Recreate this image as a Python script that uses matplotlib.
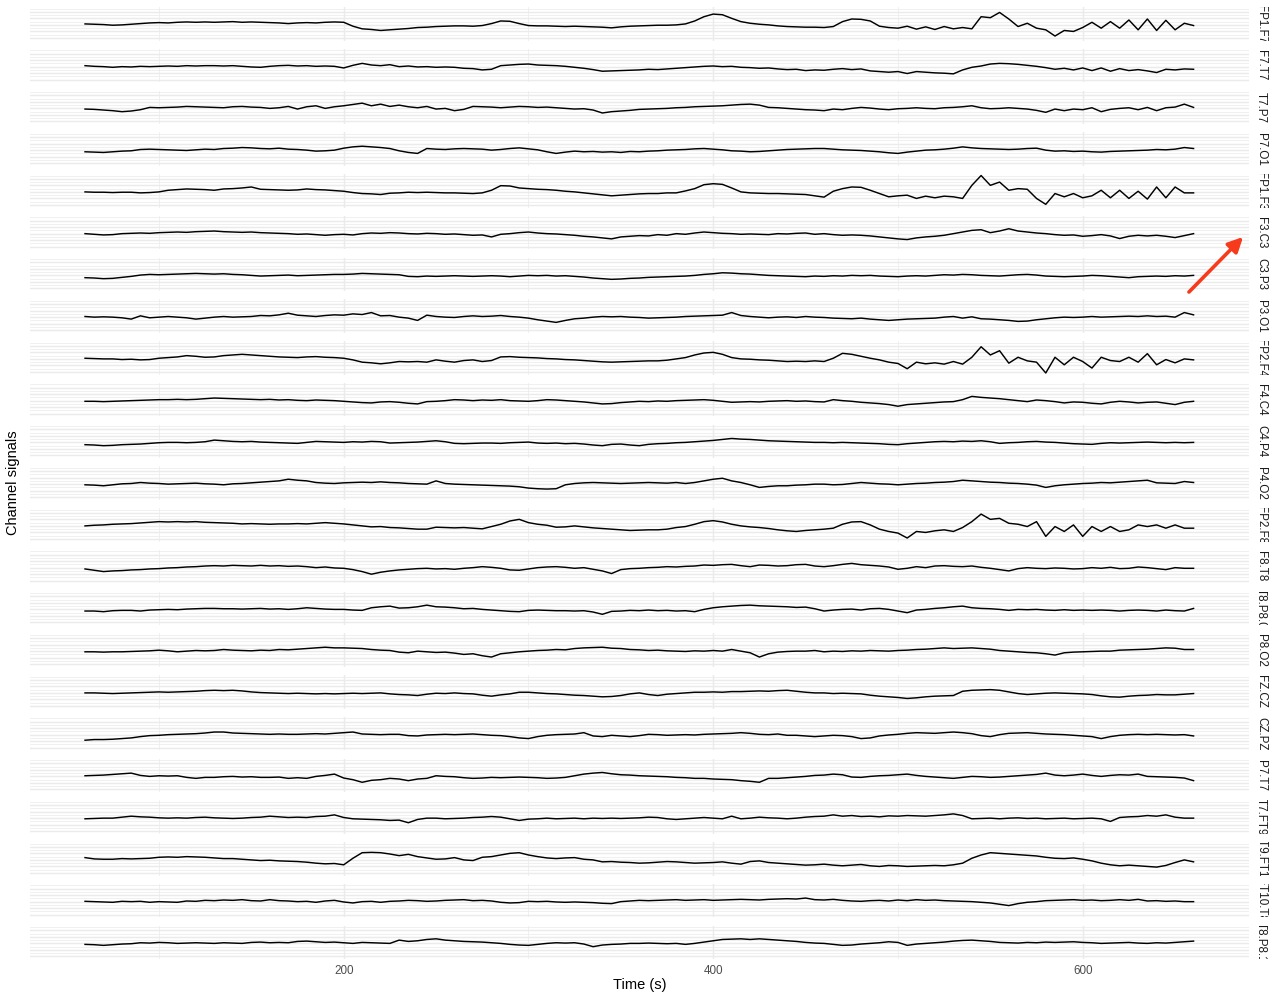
"""
Multi-channel EEG montage: one thin panel per bipolar channel, shared time axis.
"""
import numpy as np
import matplotlib
matplotlib.use('Agg')
import matplotlib.pyplot as plt

plt.rcParams['font.family'] = ['Liberation Sans', 'DejaVu Sans']

# ---- data (arbitrary amplitude units) ----
CHANNELS = ['FP1.F7', 'F7.T7', 'T7.P7', 'P7.O1', 'FP1.F3', 'F3.C3', 'C3.P3',
            'P3.O1', 'FP2.F4', 'F4.C4', 'C4.P4', 'P4.O2', 'FP2.F8', 'F8.T8',
            'T8.P8.0', 'P8.O2', 'FZ.CZ', 'CZ.PZ', 'P7.T7', 'T7.FT9',
            'FT9.FT10', 'FT10.T8', 'T8.P8.1']
T_START, T_STEP = 60, 5          # seconds, one sample every 5 s
X_BREAKS = [200, 400, 600]

FP1_F7 = [3, 2, 1, -1, 0, 2, 4, 6, 7, 6, 8, 9, 8, 9, 8, 9, 10, 8, 9, 8, 7, 6, 4, 6, 7, 6, 8, 9,
          8, -4, -12, -14, -17, -15, -13, -11, -8, -7, -5, -4, -3, -3, -4, -2, 4, 12, 11, 4,
          -2, -3, -3, -4, -5, -4, -5, -6, -7, -9, -6, -4, -3, -2, -1, -1, 0, 3, 12, 25,
          33, 31, 20, 10, 5, 2, 0, -3, -5, -6, -7, -7, -8, -5, 10, 18, 17, 12, -4, -8,
          -10, -4, -13, -6, -14, -5, -12, -8, -12, 25, 22, 38, 18, -5, 5, -10, -15, -34, -17, -20,
          -8, 8, -10, 10, -10, 15, -15, 18, -17, 14, -15, 5, -2]
F7_T7 = [3, 1, 0, -2, 0, -1, 1, 0, 1, 2, 1, 3, 2, 3, 3, 2, 3, 1, -1, -2,
         1, 3, 4, 2, 3, 1, 2, 1, -4, 4, 10, 5, 3, 6, 0, 2, -1, 0, -2, -1,
         -2, -5, -6, -10, -8, 3, 5, 7, 8, 5, 4, 3, 1, -2, -5, -9, -14, -13, -12, -11,
         -10, -8, -9, -7, -5, -3, -1, 1, 2, 0, 1, -2, -3, -5, -4, -7, -9, -8, -12, -10,
         -11, -8, -6, -9, -7, -13, -15, -17, -15, -21, -15, -17, -19, -20, -22, -10, -2, 2, 8, 10,
         9, 7, 4, 1, -3, -8, -5, -10, -4, -12, -4, -14, -6, -12, -9, -13, -18, -8, -10, -7, -8]
T7_P7 = [-2, -3, -5, -7, -10, -8, -4, 3, 2, 3, 4, 6, 5, 4, 3, 2, 5, 6, 4, 3,
         0, 2, 6, -2, 5, 8, 0, 5, 8, 12, 16, 8, 13, 6, 10, 5, 2, 6, -2, 0,
         -7, -3, 6, 5, 4, 2, 4, 6, 5, 3, 4, 2, 0, -2, -1, -5, -14, -10, -8, -6,
         -3, -2, -1, 0, 2, 3, 5, 6, 7, 8, 10, 12, 13, 10, 3, 2, 0, -2, -4, -5,
         -7, -2, -4, 0, 3, 1, -2, -4, -1, 0, 2, 0, -1, 2, 3, 5, 8, 2, -1, 0,
         2, 0, -2, -6, -12, -2, -7, -2, -4, 2, -10, -3, 0, 2, -4, 3, -7, 2, 4, 13, 3]
P7_O1 = [-5, -6, -7, -5, -3, -2, 2, 3, 2, 1, 0, -1, 1, 3, 2, 5, 6, 8, 7, 5,
         4, 6, 3, 2, 0, -3, -2, 0, 6, 10, 12, 10, 8, 5, -2, -7, -10, 5, 3, 2,
         4, 5, 4, 3, 0, 2, 5, 7, 4, 1, -5, -10, -6, -3, -5, -4, -6, -5, -7, -4,
         -5, -3, -2, 0, 1, 2, 4, 5, 3, 1, -2, -3, -5, -4, -2, 0, 2, 3, 4, 5,
         5, 3, 1, 0, -1, -3, -5, -8, -10, -6, -3, 0, 1, 3, 6, 10, 7, 5, 4, 3,
         2, 3, 5, 6, 0, -3, -2, -4, -3, -5, -6, -4, -3, -2, -1, 0, 2, 1, 3, 8, 5]
FP1_F3 = [0, -1, -1, -2, -1, -1, -3, -2, 0, 5, 7, 9, 8, 7, 5, 9, 10, 12, 15, 8,
          7, 6, 5, 6, 9, 7, 6, 4, 2, -2, -5, -6, -8, -4, -3, -1, -2, -1, -2, -3,
          -3, -4, -5, -3, 5, 19, 18, 12, 10, 8, 7, 5, 2, 0, -3, -6, -9, -12, -10, -8,
          -6, -5, -5, -3, -3, 3, 10, 22, 25, 23, 12, 0, -3, -4, -5, -5, -6, -7, -8, -12,
          -16, 2, 10, 15, 14, 5, -5, -15, -12, -10, -20, -13, -18, -13, -15, -20, 20, 50, 20, 30,
          5, 10, 8, -20, -38, -5, -15, -5, -18, -12, 5, -18, 5, -20, 2, -22, 15, -18, 15, -3, -3]
F3_C3 = [0, -2, -4, -3, 0, 1, 2, 1, 3, 4, 5, 4, 6, 7, 8, 6, 5, 4, 5, 3,
         2, 1, 0, -2, -1, -3, -5, -3, -2, -4, 0, 2, 1, 3, 2, 0, -1, 1, 0, -2,
         -1, -3, -5, -4, -10, -2, 0, 3, 5, 2, 0, -1, -3, -5, -8, -10, -13, -16, -10, -8,
         -6, -7, -3, -5, 0, -2, 2, 5, 3, 1, 0, -2, -1, -2, -3, 0, -1, 1, 2, -2,
         0, -3, -5, -4, -5, -7, -10, -13, -16, -18, -13, -10, -8, -5, 0, 5, 10, 12, 3, 8,
         15, 8, 5, 2, 0, -3, -5, -4, -8, -6, -3, -7, -15, -8, -5, -7, -5, -8, -12, -6, 0]
C3_P3 = [-7, -8, -10, -9, -6, -3, 1, 3, 2, 3, 4, 5, 6, 5, 4, 5, 3, 2, 0, -2,
         -1, 0, 1, -1, 0, 1, 2, 3, 3, 4, 6, 5, 4, 3, 2, -3, -4, -2, -3, -2,
         -1, -2, -3, -2, -1, -2, -4, -2, 0, -1, 0, -2, -1, -3, -5, -8, -10, -12, -11, -9,
         -8, -6, -5, -4, -3, -2, 0, 3, 5, 8, 7, 5, 4, 2, 0, -1, -2, -3, -4, -2,
         -3, -1, -2, 0, -1, 0, -2, -3, -4, -2, -1, -2, 0, 2, 1, 3, 2, 0, -1, -2,
         0, 2, 3, 1, -2, -3, -4, -3, -2, 0, -1, -3, -5, -7, -4, -3, -2, -3, -1, -2, 0]
P3_O1 = [2, 0, 1, 0, -2, -6, 4, -2, 0, 2, 0, -2, -6, -3, 0, 2, 0, 1, 2, 5,
         4, 7, 12, 6, 4, 2, 5, 7, 6, 10, 8, 14, 4, 5, 0, -3, -10, 6, 2, 0,
         -1, 2, 4, 2, 3, 5, 2, 0, -3, -8, -12, -16, -10, -5, -3, 0, 2, 1, 2, 0,
         -1, -3, -2, -1, 0, 2, 3, 4, 5, 6, 14, 5, 2, 0, -2, 0, 1, -1, 2, 0,
         -1, -3, -4, -5, -3, -6, -8, -10, -8, -6, -5, -4, -3, 0, 2, -3, 1, -5, -6, -8,
         -10, -13, -12, -8, -5, -2, 0, -1, 0, 2, 0, 1, 2, 3, 2, 4, 2, 3, 0, 14, 7]
FP2_F4 = [2, 1, 0, 0, -2, -1, -3, -2, 2, 4, 6, 10, 8, 5, 6, 10, 12, 14, 12, 10,
          8, 6, 5, 4, 6, 7, 5, 4, 2, -3, -10, -12, -15, -12, -8, -9, -8, -10, -3, -7,
          -10, -5, -3, -8, -5, 6, 7, 5, 4, 3, 1, 0, -2, -3, -5, -7, -9, -10, -9, -8,
          -7, -6, -6, -4, 0, 4, 12, 18, 20, 14, 4, 0, -1, -3, -4, -6, -8, -7, -8, -6,
          -8, 2, 17, 14, 8, 2, -3, -10, -14, -30, -10, -15, -12, -16, -8, -16, 5, 37, 12, 25,
          -13, 5, -6, -10, -43, 5, -18, 5, -8, -28, 5, -5, -8, 5, -10, 16, -18, -2, -12, 0, -3]
F4_C4 = [-2, -2, -3, -2, -1, 0, 1, 2, 3, 3, 4, 3, 4, 6, 8, 7, 6, 5, 4, 3,
         4, 2, 3, 1, 0, 2, 1, 0, -2, -4, -6, -7, -4, -3, -5, -8, -10, -3, -2, 0,
         3, 2, 0, 2, 1, 3, 0, -1, -2, 0, 3, 2, 0, -2, -4, -7, -10, -9, -6, -4,
         -2, -3, -1, -2, 0, 1, 2, 3, 1, -2, -5, -4, -3, -4, -2, -1, 0, -2, -1, -3,
         -4, 3, 0, -2, -5, -7, -9, -12, -17, -12, -10, -8, -6, -4, -3, 3, 13, 10, 8, 6,
         3, 0, -3, 2, 0, -3, -7, -4, -5, -8, -10, -5, -2, -4, -7, -5, -4, -8, -12, -5, -2]
C4_P4 = [-7, -8, -10, -9, -7, -6, -5, -3, -1, 0, 0, -1, 0, 2, 7, 5, 3, 2, 3, 1,
         0, -1, -2, -3, 0, 3, 2, 1, 0, 2, 1, 3, 2, -2, -1, 0, 1, 3, 5, 2,
         -3, -4, -3, -2, -2, -3, -1, 0, 1, -2, -3, -2, -4, -3, -5, -8, -10, -6, -5, -8,
         -10, -6, -4, -3, -1, 0, 2, 4, 6, 9, 12, 10, 9, 7, 5, 4, 3, 2, 1, 0,
         0, -1, 0, -1, -2, -3, -4, -6, -7, -4, -2, 0, 2, 3, 2, 4, 3, 5, 2, -3,
         -1, 0, 2, 3, 1, 0, -2, -4, -5, -6, -3, -1, -2, -1, 0, 1, 0, -1, 0, -1, 0]
P4_O2 = [-2, -3, -5, -2, 1, 2, 5, 3, 2, 0, 1, 2, 3, 1, 0, -2, 1, 2, 4, 6,
         8, 10, 15, 12, 10, 5, 3, 2, 4, 5, 6, 5, 7, 5, 4, 2, 1, 0, 10, 2,
         0, -1, -2, -3, -4, -5, -6, -8, -12, -14, -15, -14, -2, 2, 4, 5, 4, 3, 2, 3,
         4, 5, 4, 3, 5, 2, 5, 10, 15, 18, 10, 5, -2, -10, -7, -5, -5, -3, -2, 0,
         0, -2, -1, 2, 5, 3, 1, 0, -2, 0, 2, 3, 5, 6, 8, 12, 10, 8, 6, 5,
         3, 2, 0, -3, -10, -5, -2, 0, 2, 3, 5, 4, 6, 8, 10, 12, 4, 3, 2, 8, 5]
FP2_F8 = [0, 2, 3, 5, 6, 7, 9, 11, 13, 12, 13, 12, 13, 11, 10, 9, 8, 6, 7, 6,
          5, 6, 6, 7, 6, 8, 10, 8, 6, 3, 0, -3, -2, -5, -6, -8, -10, -10, -4, -5,
          -6, -5, -7, -9, -2, 5, 15, 20, 10, 5, 2, -4, -3, 0, -3, -6, -8, -10, -12, -14,
          -13, -12, -12, -10, -5, -2, 5, 13, 16, 12, 5, 0, -3, -5, -8, -12, -15, -17, -14, -12,
          -10, -7, 5, 12, 13, 3, -10, -17, -22, -37, -17, -20, -15, -12, -17, -5, 13, 36, 20, 23,
          8, 5, -2, 13, -32, -2, -17, 3, -32, -2, -17, -2, -17, -12, 3, -2, 3, -7, 3, -7, -7]
F8_T8 = [-4, -8, -12, -10, -9, -7, -6, -4, -3, -1, 0, 2, 3, 5, 6, 5, 7, 6, 5, 7,
         5, 6, 4, 5, 3, 0, 2, -1, -2, -6, -12, -20, -14, -10, -7, -5, -3, -2, -4, -3,
         -5, -2, 0, 3, 1, -2, -7, -8, -4, 0, 2, 3, 1, -2, 0, -5, -10, -18, -6, -3,
         -2, 0, 1, 3, 2, 4, 5, 8, 7, 9, 10, 6, 3, 8, 7, 5, 6, 9, 10, 5,
         3, 6, 10, 13, 9, 7, 5, 2, -5, -2, 3, 0, 5, 6, 4, 3, 5, 1, -2, -6,
         -10, -3, 0, -2, -3, -1, -2, -4, -3, 0, -2, 1, -3, -2, 2, 0, -3, -6, 0, -2, -2]
T8_P8_0 = [-5, -5, -7, -4, -3, -3, -5, -2, -1, 0, -1, 1, 2, 3, 3, 2, 2, 1, 2, 3,
           1, 2, 0, 2, 5, 3, 1, 0, 0, -2, -3, 5, 8, 10, 4, 5, 8, 13, 8, 7,
           5, 2, 3, 0, -2, -4, -6, -7, -3, -2, -3, -4, -4, -5, -4, -8, -15, -6, -5, -3,
           -4, -2, -4, -3, -5, -4, -7, 0, 5, 8, 10, 12, 13, 11, 10, 9, 8, 6, 7, 2,
           -5, -2, 0, 1, -2, 2, 3, 0, -5, -10, -2, 0, 3, 5, 8, 10, 5, 3, 2, 0,
           -3, 0, -1, 0, -2, -3, -1, -3, -2, -3, -2, -3, -5, -3, -2, -3, -5, -2, -4, -5, 3]
P8_O2 = [-2, -2, -3, -2, -2, -1, 0, 1, 3, 1, -2, 0, 2, 1, 2, 5, 3, 2, 1, 3,
         2, 5, 4, 6, 8, 10, 12, 10, 10, 9, 8, 5, 3, 2, -3, -5, 0, -2, -4, -3,
         -6, -10, -8, -14, -18, -8, -5, -2, 0, 2, 3, 5, 4, 8, 10, 11, 12, 9, 8, 5,
         4, 2, 3, 1, 0, -1, 1, 0, 2, 0, 5, 0, -5, -18, -8, -3, -1, 0, 0, 2,
         -2, 0, -1, 1, 0, 2, 1, 0, 2, 3, 5, 6, 8, 10, 8, 9, 10, 8, 6, 2,
         0, -2, -4, -5, -8, -12, -5, -3, -2, -1, 0, 0, 3, 4, 5, 6, 8, 10, 9, 5, 5]
FZ_CZ = [0, 0, -1, -2, -1, 0, 1, 2, 3, 2, 3, 4, 5, 7, 8, 7, 8, 6, 3, 1,
         0, -1, -2, -1, -2, -3, -2, -3, -2, -1, -2, -1, 0, -3, -5, -6, -8, -4, -1, -2,
         0, -2, -3, -7, -10, -6, -3, 2, 2, 0, -2, -3, -5, -7, -8, -10, -12, -11, -8, -3,
         0, -5, -8, -4, -2, 0, 2, 2, 3, 2, 4, 4, 5, 6, 5, 7, 8, 5, 2, 0,
         0, -2, -1, -2, -3, -7, -10, -12, -14, -17, -15, -12, -10, -9, -8, 5, 8, 9, 10, 8,
         3, -2, -5, -3, -1, 0, -1, -2, -3, -5, -9, -12, -13, -10, -8, -7, -5, -6, -6, -4, -2]
CZ_PZ = [-17, -15, -15, -14, -12, -10, -6, -3, -2, 0, 1, 2, 3, 5, 8, 8, 5, 4, 3, 2,
         1, 2, 1, 1, 2, 3, 2, 4, 6, 8, 2, 1, 0, 1, 1, -3, -4, -1, 0, 1,
         0, 1, 2, 0, -2, -3, -6, -10, -12, -6, -2, 0, 1, 2, 6, -4, -6, -2, -4, -6,
         -3, 1, 0, -2, -1, 0, -1, 1, 2, 3, 4, 6, 4, 1, 0, 2, -2, -2, -4, -6,
         -4, -2, -3, -6, -12, -10, -4, -1, 1, 4, 6, 5, 4, 6, 8, 6, 3, -3, -6, 0,
         4, 5, 6, 4, 2, 1, 0, -2, -4, -6, -12, -6, -2, 0, 1, 0, 1, 0, -1, 0, -4]
P7_T7 = [2, 3, 4, 6, 8, 10, 3, 0, 2, 1, 2, -3, -6, -3, -3, -1, 0, -2, -1, -3,
         -3, -2, -6, -4, -6, 0, 3, 7, -5, -10, -18, -12, -10, -6, -8, -13, -8, -6, 2, 0,
         -1, -4, -6, -5, -3, -4, -3, -2, -3, -4, -6, -5, -3, 2, 7, 10, 12, 8, 5, 4,
         2, 1, 0, -1, -3, -4, -6, -6, -8, -9, -10, -13, -15, -18, -6, -6, -4, -2, 0, 3,
         4, 7, 5, -2, -3, 0, 2, 3, 5, 7, 3, 0, -2, -4, -6, -3, 0, -1, -3, -2,
         0, 2, 4, 6, 10, 4, 2, 4, 7, 3, 0, 3, 5, 4, 7, 0, -1, -2, -3, -5, -13]
T7_FT9 = [-2, -1, 0, 0, 3, 6, 4, 3, 1, 0, 1, 0, 2, 3, 1, 0, -1, 0, 2, 3,
          6, 4, 2, 3, 2, 5, 6, 10, 2, -2, -3, -4, -5, -7, -6, -14, -4, 0, 0, -2,
          -1, 0, 2, 3, 5, 3, -2, -7, -3, -2, 0, -2, -1, 0, -2, 0, -1, 0, -1, 0,
          1, 3, 2, -2, -4, -2, 0, 2, 0, -2, 6, -2, 0, 3, 1, 0, -2, 0, 3, 5,
          6, 10, 6, 8, 5, 6, 4, 7, 6, 8, 7, 6, 8, 10, 13, 8, -2, -1, 0, -2,
          0, 1, -1, 0, -2, -1, 0, -2, -1, 0, -2, -10, 2, 4, 5, 8, 6, 10, 3, 0, 0]
FT9_FT10 = [7, 3, 2, 2, 4, 3, 4, 5, 8, 9, 8, 10, 9, 8, 6, 4, 4, 2, 0, -2,
            -1, -3, -4, -5, -7, -10, -12, -11, -15, 5, 22, 23, 22, 18, 13, 17, 10, 6, 2, 3,
            7, 0, -2, 8, 10, 15, 20, 22, 15, 10, 6, 4, 6, 7, 2, 0, -6, -5, -7, -8,
            -10, -9, -7, -5, -6, -8, -10, -9, -8, -6, -10, -13, -5, -3, -8, -10, -12, -14, -16, -15,
            -13, -16, -18, -16, -14, -18, -20, -17, -18, -20, -19, -18, -17, -18, -15, -10, 5, 15, 22, 20,
            18, 16, 14, 12, 8, 5, 4, 6, 2, -3, -10, -15, -18, -16, -18, -20, -22, -17, -8, 0, -6]
FT10_T8 = [1, 0, -1, -2, 1, 0, 1, -2, 0, -1, -2, 2, 1, 4, 3, 5, 4, 6, 3, 2,
           6, 3, 2, 0, 1, -2, 2, 4, -1, -4, 0, 1, -2, 1, 2, 4, 3, 1, 2, 4,
           5, 6, 3, 4, 2, -2, -4, -3, 1, 0, 1, -1, -2, -1, -2, -3, -5, -6, 0, 2,
           4, 3, 4, 5, 6, 4, 5, 6, 4, 5, 6, 7, 6, 5, 7, 8, 9, 8, 11, 6,
           5, 7, 4, 2, 1, 3, 4, 2, 5, 3, 6, 4, 5, 3, 2, 1, 0, -2, -4, -8,
           -12, -6, -2, 0, 3, 4, 5, 6, 4, 5, 3, 4, 6, 4, 7, 2, 3, 1, 2, 0, 0]
T8_P8_1 = [-3, -4, -6, -4, -2, -1, 2, 1, 3, 2, 0, 1, 2, 1, 0, 2, 1, 0, 3, 4,
           2, 3, 2, 6, 7, 5, 3, 4, 2, 0, 3, 2, 1, 0, 10, 6, 8, 12, 14, 10,
           8, 6, 5, 4, 2, 0, -3, -5, -6, -3, 0, 2, 1, 2, -2, -10, -5, -3, -2, 0,
           0, 1, 0, -1, 0, -3, 0, 4, 8, 12, 13, 14, 12, 14, 12, 10, 8, 6, 3, 1,
           0, -3, -6, -5, -2, 0, 2, 5, 3, -6, -2, 0, 2, 4, 7, 9, 10, 8, 6, 3,
           2, 1, 3, 2, 4, 3, 4, 5, 3, 2, 0, 1, 2, 3, 1, 0, 2, 1, 3, 5, 7]

SIGNALS = [FP1_F7, F7_T7, T7_P7, P7_O1, FP1_F3, F3_C3, C3_P3, P3_O1,
           FP2_F4, F4_C4, C4_P4, P4_O2, FP2_F8, F8_T8, T8_P8_0, P8_O2,
           FZ_CZ, CZ_PZ, P7_T7, T7_FT9, FT9_FT10, FT10_T8, T8_P8_1]

# ---- layout (pixels of a 1280x1000 canvas) ----
W, H, DPI = 1280, 1000, 100
LEFT, RIGHT = 29.6, 1249.0
TOP0, PANEL_H, STEP = 7.0, 33.5, 41.75
STRIP_W = 24.0
GRID = '#EBEBEB'
TXT_GREY = '#4D4D4D'


def px_box(x0, y0, w, h):
    """pixel box (top-left origin) -> figure fraction rect"""
    return [x0 / W, 1 - (y0 + h) / H, w / W, h / H]


n_samp = len(SIGNALS[0])
t = T_START + T_STEP * np.arange(n_samp)
x_lo, x_hi = t.min(), t.max()
x_pad = 0.05 * (x_hi - x_lo)
all_vals = np.concatenate([np.asarray(s, float) for s in SIGNALS])
y_lo, y_hi = all_vals.min(), all_vals.max()
y_pad = 0.05 * (y_hi - y_lo)

fig = plt.figure(figsize=(W / DPI, H / DPI), dpi=DPI)
n = len(CHANNELS)
for k, (name, sig) in enumerate(zip(CHANNELS, SIGNALS)):
    top = TOP0 + k * STEP
    ax = fig.add_axes(px_box(LEFT, top, RIGHT - LEFT, PANEL_H))
    ax.plot(t, sig, color='black', lw=1.05, solid_joinstyle='round')
    ax.set_xlim(x_lo - x_pad, x_hi + x_pad)
    ax.set_ylim(y_lo - y_pad, y_hi + y_pad)
    ax.set_xticks(X_BREAKS)
    ax.set_xticks([100, 300, 500], minor=True)
    ax.set_yticks([-40, -20, 0, 20, 40])
    ax.set_yticks([-30, -10, 10, 30, 50], minor=True)
    ax.grid(which='major', color=GRID, lw=1.07)
    ax.grid(which='minor', color=GRID, lw=0.53)
    ax.set_axisbelow(True)
    for s in ax.spines.values():
        s.set_visible(False)
    ax.tick_params(which='both', length=0, labelleft=False,
                   labelbottom=(k == n - 1), labelsize=8.4,
                   labelcolor=TXT_GREY, pad=4)

    # facet strip on the right, label clipped to the panel height
    sax = fig.add_axes(px_box(RIGHT, top, STRIP_W, PANEL_H))
    sax.set_axis_off()
    sax.text(0.5, 0.5, name, rotation=-90, ha='center', va='center',
             fontsize=8.4, color='#1A1A1A', transform=sax.transAxes,
             clip_on=True, clip_box=sax.bbox)

mid_x = (LEFT + RIGHT) / 2
mid_y = TOP0 + ((n - 1) * STEP + PANEL_H) / 2
fig.text(mid_x / W, 1 - 985 / H, 'Time (s)', ha='center', va='center',
         fontsize=10.5, color='black')
fig.text(13 / W, 1 - mid_y / H, 'Channel signals', rotation=90,
         ha='center', va='center', fontsize=10.5, color='black')

# red pointer arrow next to the F3.C3 strip
fig.add_artist(plt.matplotlib.patches.FancyArrowPatch(
    (1187 / W, 1 - 294 / H), (1245 / W, 1 - 235 / H),
    transform=fig.transFigure, arrowstyle='-|>', mutation_scale=22,
    color='#F73A1C', lw=2.6))

fig.savefig('out.png', dpi=DPI)
